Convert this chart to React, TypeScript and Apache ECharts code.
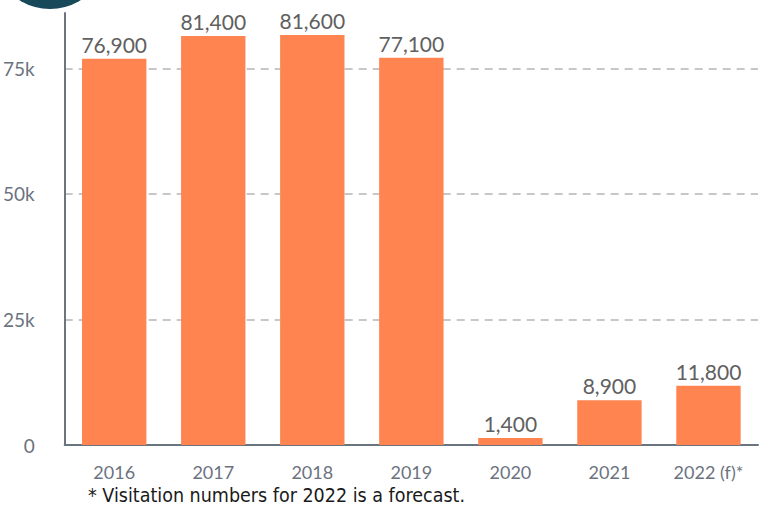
import React, { useEffect, useRef } from "react";
import * as echarts from "echarts";

const categories = ["2016", "2017", "2018", "2019", "2020", "2021", "2022 (f)*"];
const visitors = [76900, 81400, 81600, 77100, 1400, 8900, 11800];
const yTicks = [0, 25000, 50000, 75000];
const footnote = "* Visitation numbers for 2022 is a forecast.";

export default function App() {
  const ref = useRef<HTMLDivElement>(null);
  useEffect(() => {
    document.body.style.margin = "0";
    const chart = echarts.init(ref.current!, null, { renderer: "svg" });
    chart.setOption({
      animation: false,
      graphic: [
        {
          type: "circle",
          shape: { cx: 50, cy: -49, r: 58 },
          style: { fill: "#17495a" },
          z: 10,
        },
        {
          type: "text",
          left: 88,
          top: 485,
          style: {
            text: footnote,
            font: "19.5px 'DejaVu Sans Condensed', sans-serif",
            fill: "#1a1a1a",
          },
        },
      ],
      grid: { left: 62, right: 21, top: 13, bottom: 64, containLabel: false },
      xAxis: {
        type: "category",
        data: categories,
        axisLine: { lineStyle: { color: "#6b7580", width: 2 } },
        axisTick: { show: false },
        axisLabel: {
          color: "#6b7380",
          fontFamily: "Lato",
          fontWeight: 400,
          fontSize: 18,
          margin: 18,
        },
      },
      yAxis: {
        type: "value",
        min: 0,
        max: 86000,
        interval: 25000,
        axisLine: { show: true, lineStyle: { color: "#6b7580", width: 2 } },
        axisTick: { show: false },
        splitLine: {
          showMaxLine: false,
          showMinLine: false,
          lineStyle: { color: "#b5b5b5", type: [8, 6], width: 1.5 },
        },
        axisLabel: {
          color: "#6b7380",
          fontFamily: "Lato",
          fontWeight: 400,
          fontSize: 19,
          margin: 30,
          formatter: (v: number) => (yTicks.includes(v) ? (v === 0 ? "0" : v / 1000 + "k") : ""),
          showMaxLabel: false,
        },
      },
      series: [
        {
          type: "bar",
          data: visitors,
          barWidth: "65%",
          itemStyle: { color: "#ff8450" },
          label: {
            show: true,
            position: "top",
            distance: 4,
            color: "#606060",
            fontFamily: "Lato",
            fontWeight: 400,
            fontSize: 21,
            formatter: (p: any) => p.value.toLocaleString("en-US"),
          },
        },
      ],
    });
    return () => chart.dispose();
  }, []);
  return <div ref={ref} style={{ width: 779, height: 509 }} />;
}
